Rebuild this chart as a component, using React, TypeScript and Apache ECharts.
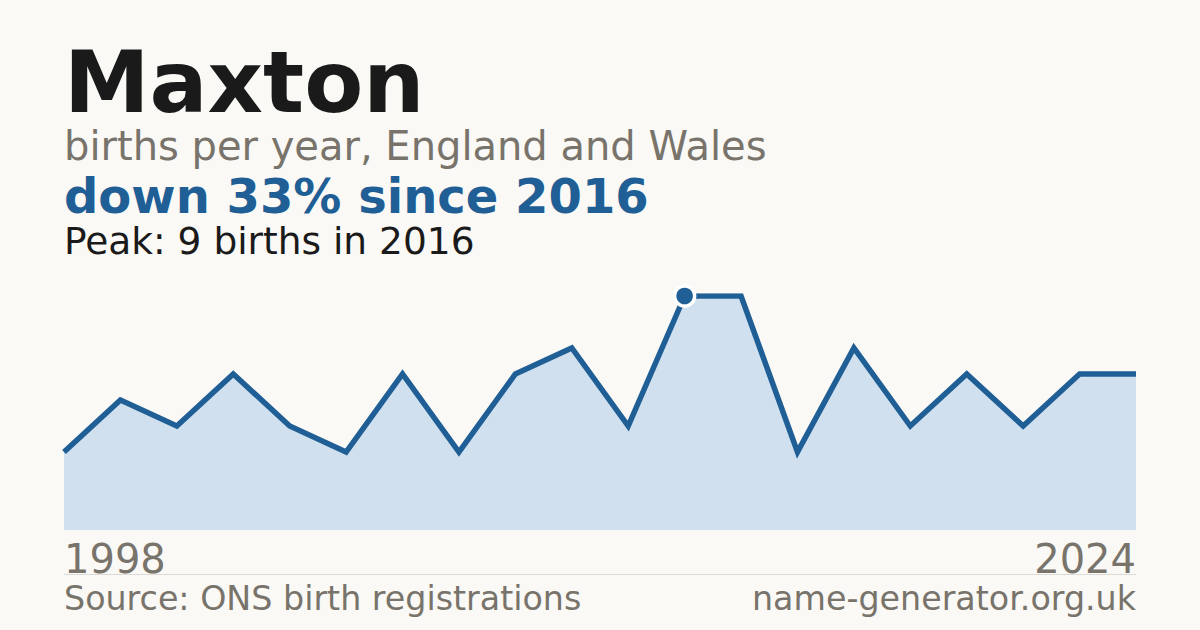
import * as echarts from 'echarts'
import { useEffect, useRef } from 'react'

const years = ['1998', '2006', '2007', '2008', '2009', '2010', '2011', '2012', '2013', '2014', '2015', '2016', '2017', '2018', '2019', '2020', '2021', '2022', '2023', '2024']
const births = [3, 5, 4, 6, 4, 3, 6, 3, 6, 7, 4, 9, 9, 3, 7, 4, 6, 4, 6, 6]
const peakYear = '2016'
const peakValue = 9

const titleText = 'Maxton'
const subtitleText = 'births per year, England and Wales'
const trendText = 'down 33% since 2016'
const peakText = 'Peak: 9 births in 2016'
const sourceText = 'Source: ONS birth registrations'
const siteText = 'name-generator.org.uk'

const FONT = '"DejaVu Sans", sans-serif'
const BLUE = '#1f5f96'
const GREY = '#78736b'
const INK = '#1a1a1a'

/** 以基线定位文字：middle 对齐后再往上挪一点 */
function textAt(x: number, baseline: number, text: string, size: number, color: string, bold = false, align: 'left' | 'right' = 'left') {
  return {
    type: 'text' as const,
    x,
    y: baseline - size * 0.36,
    style: {
      text,
      fill: color,
      font: `${bold ? 'bold ' : ''}${size}px ${FONT}`,
      lineHeight: size,
      align,
      verticalAlign: 'middle',
    },
    silent: true,
  }
}

export default function App() {
  const ref = useRef<HTMLDivElement>(null)

  useEffect(() => {
    document.body.style.margin = '0'
    if (!ref.current) return
    const chart = echarts.init(ref.current, undefined, { renderer: 'svg' })
    chart.setOption({
      animation: false,
      backgroundColor: '#faf9f5',
      textStyle: { fontFamily: FONT },
      grid: { left: 64, right: 64, top: 296, bottom: 100 },
      xAxis: {
        type: 'category',
        data: years,
        boundaryGap: false,
        axisLine: { show: false },
        axisTick: { show: false },
        splitLine: { show: false },
        axisLabel: {
          interval: (index: number) => index === 0 || index === years.length - 1,
          alignMinLabel: 'left',
          alignMaxLabel: 'right',
          color: GREY,
          fontSize: 40,
          fontFamily: FONT,
          margin: 9,
        },
      },
      yAxis: {
        type: 'value',
        min: 0,
        max: peakValue,
        show: false,
      },
      series: [
        {
          type: 'line',
          data: births,
          showSymbol: false,
          lineStyle: { color: BLUE, width: 5.5, join: 'miter' },
          areaStyle: { color: '#d0e0ef', opacity: 1 },
          markPoint: {
            symbol: 'circle',
            symbolSize: 20,
            label: { show: false },
            itemStyle: { color: BLUE, borderColor: '#ffffff', borderWidth: 3.5 },
            data: [{ coord: [peakYear, peakValue] }],
          },
        },
      ],
      graphic: [
        textAt(64, 113, titleText, 86, INK, true),
        textAt(64, 160, subtitleText, 40, GREY),
        textAt(64, 213, trendText, 48, BLUE, true),
        textAt(64, 254, peakText, 37.5, INK),
        {
          type: 'line',
          shape: { x1: 64, y1: 574.5, x2: 1136, y2: 574.5 },
          style: { stroke: '#dcdad4', lineWidth: 1 },
          silent: true,
        },
        textAt(64, 610, sourceText, 33.3, GREY),
        textAt(1136, 610, siteText, 33.3, GREY, false, 'right'),
      ],
    })
    return () => chart.dispose()
  }, [])

  return <div ref={ref} style={{ width: 1200, height: 630 }} />
}
